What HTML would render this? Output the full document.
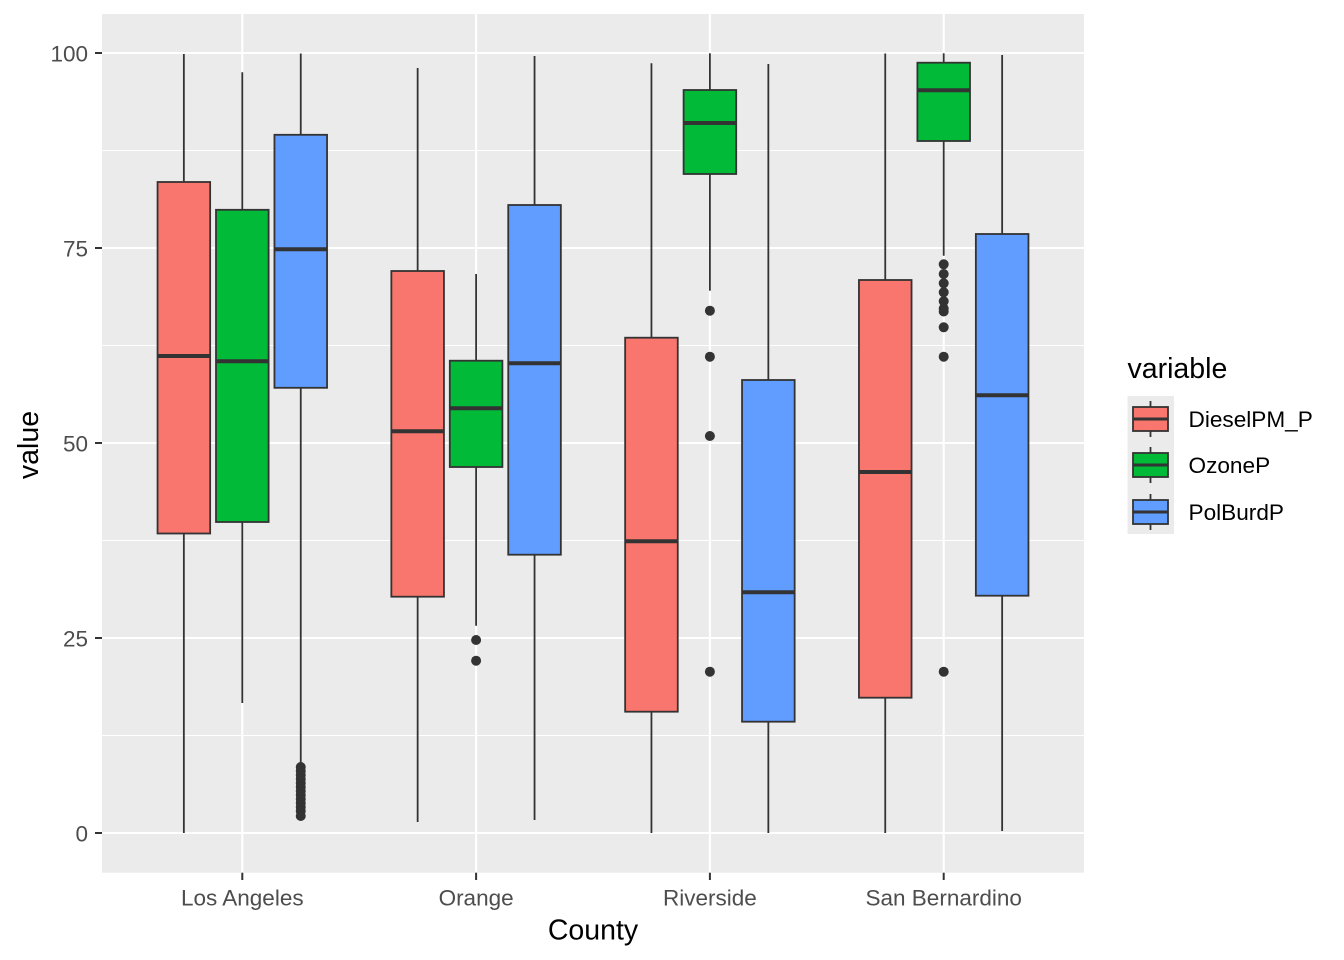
<!DOCTYPE html>
<html><head><meta charset="utf-8"><style>
html,body{margin:0;padding:0;background:#fff;}
svg{display:block;}
text{font-family:"Liberation Sans",Arial,sans-serif;}
</style></head><body>
<svg width="1344" height="960" viewBox="0 0 1344 960" xmlns="http://www.w3.org/2000/svg">
<rect x="0" y="0" width="1344" height="960" fill="#fff"/>
<!-- panel -->
<rect x="102" y="14" width="982" height="858.7" fill="#EBEBEB"/>
<!-- minor grid -->
<g stroke="#fff" stroke-width="1.1">
<line x1="102" x2="1084" y1="735.5" y2="735.5"/>
<line x1="102" x2="1084" y1="540.5" y2="540.5"/>
<line x1="102" x2="1084" y1="345.5" y2="345.5"/>
<line x1="102" x2="1084" y1="150.5" y2="150.5"/>
</g>
<!-- major grid -->
<g stroke="#fff" stroke-width="2.1">
<line x1="102" x2="1084" y1="833" y2="833"/>
<line x1="102" x2="1084" y1="638" y2="638"/>
<line x1="102" x2="1084" y1="443" y2="443"/>
<line x1="102" x2="1084" y1="248" y2="248"/>
<line x1="102" x2="1084" y1="53" y2="53"/>
<line x1="242.3" x2="242.3" y1="14" y2="872.7"/>
<line x1="476.1" x2="476.1" y1="14" y2="872.7"/>
<line x1="709.9" x2="709.9" y1="14" y2="872.7"/>
<line x1="943.7" x2="943.7" y1="14" y2="872.7"/>
</g>

<g stroke="#333333" stroke-width="1.8">
<!-- Los Angeles -->
<line x1="183.85" x2="183.85" y1="54" y2="182"/><line x1="183.85" x2="183.85" y1="533.5" y2="833"/>
<rect x="157.55" y="182" width="52.6" height="351.5" fill="#F8766D"/>
<line x1="242.3" x2="242.3" y1="72.3" y2="209.8"/><line x1="242.3" x2="242.3" y1="522" y2="703"/>
<rect x="216" y="209.8" width="52.6" height="312.2" fill="#00BA38"/>
<line x1="300.75" x2="300.75" y1="53.5" y2="134.8"/><line x1="300.75" x2="300.75" y1="387.8" y2="763"/>
<rect x="274.45" y="134.8" width="52.6" height="253" fill="#619CFF"/>
<!-- Orange -->
<line x1="417.65" x2="417.65" y1="68" y2="271"/><line x1="417.65" x2="417.65" y1="596.7" y2="822"/>
<rect x="391.35" y="271" width="52.6" height="325.7" fill="#F8766D"/>
<line x1="476.1" x2="476.1" y1="274" y2="360.7"/><line x1="476.1" x2="476.1" y1="467" y2="625.7"/>
<rect x="449.8" y="360.7" width="52.6" height="106.3" fill="#00BA38"/>
<line x1="534.55" x2="534.55" y1="56" y2="205"/><line x1="534.55" x2="534.55" y1="554.7" y2="820"/>
<rect x="508.25" y="205" width="52.6" height="349.7" fill="#619CFF"/>
<!-- Riverside -->
<line x1="651.45" x2="651.45" y1="63.3" y2="337.7"/><line x1="651.45" x2="651.45" y1="711.7" y2="833"/>
<rect x="625.15" y="337.7" width="52.6" height="374" fill="#F8766D"/>
<line x1="709.9" x2="709.9" y1="53.3" y2="90"/><line x1="709.9" x2="709.9" y1="174" y2="290.7"/>
<rect x="683.6" y="90" width="52.6" height="84" fill="#00BA38"/>
<line x1="768.35" x2="768.35" y1="64" y2="380"/><line x1="768.35" x2="768.35" y1="721.7" y2="833"/>
<rect x="742.05" y="380" width="52.6" height="341.7" fill="#619CFF"/>
<!-- San Bernardino -->
<line x1="885.25" x2="885.25" y1="53.5" y2="280"/><line x1="885.25" x2="885.25" y1="697.7" y2="833"/>
<rect x="858.95" y="280" width="52.6" height="417.7" fill="#F8766D"/>
<line x1="943.7" x2="943.7" y1="53.3" y2="62.7"/><line x1="943.7" x2="943.7" y1="141" y2="255.7"/>
<rect x="917.4" y="62.7" width="52.6" height="78.3" fill="#00BA38"/>
<line x1="1002.15" x2="1002.15" y1="55" y2="234"/><line x1="1002.15" x2="1002.15" y1="595.7" y2="831"/>
<rect x="975.85" y="234" width="52.6" height="361.7" fill="#619CFF"/>
</g>
<!-- medians -->
<g stroke="#333333" stroke-width="4">
<line x1="157.55" x2="210.15" y1="356" y2="356"/>
<line x1="216" x2="268.6" y1="361.3" y2="361.3"/>
<line x1="274.45" x2="327.05" y1="249.3" y2="249.3"/>
<line x1="391.35" x2="443.95" y1="431.3" y2="431.3"/>
<line x1="449.8" x2="502.4" y1="408.3" y2="408.3"/>
<line x1="508.25" x2="560.85" y1="363.3" y2="363.3"/>
<line x1="625.15" x2="677.75" y1="541.3" y2="541.3"/>
<line x1="683.6" x2="736.2" y1="123" y2="123"/>
<line x1="742.05" x2="794.65" y1="592.3" y2="592.3"/>
<line x1="858.95" x2="911.55" y1="472" y2="472"/>
<line x1="917.4" x2="970" y1="90.3" y2="90.3"/>
<line x1="975.85" x2="1028.45" y1="395.3" y2="395.3"/>
</g>
<!-- outliers -->
<g fill="#333333">
<circle cx="300.75" cy="767" r="5"/><circle cx="300.75" cy="771" r="5"/><circle cx="300.75" cy="775" r="5"/>
<circle cx="300.75" cy="779" r="5"/><circle cx="300.75" cy="783" r="5"/><circle cx="300.75" cy="787" r="5"/>
<circle cx="300.75" cy="791" r="5"/><circle cx="300.75" cy="795" r="5"/><circle cx="300.75" cy="799" r="5"/>
<circle cx="300.75" cy="803" r="5"/><circle cx="300.75" cy="807" r="5"/><circle cx="300.75" cy="811" r="5"/>
<circle cx="300.75" cy="816" r="5"/>
<circle cx="476.1" cy="640" r="5"/><circle cx="476.1" cy="660.7" r="5"/>
<circle cx="709.9" cy="310.7" r="5"/><circle cx="709.9" cy="356.7" r="5"/><circle cx="709.9" cy="436" r="5"/><circle cx="709.9" cy="671.7" r="5"/>
<circle cx="943.7" cy="264.3" r="5"/><circle cx="943.7" cy="274" r="5"/><circle cx="943.7" cy="283.3" r="5"/>
<circle cx="943.7" cy="292.3" r="5"/><circle cx="943.7" cy="301.3" r="5"/><circle cx="943.7" cy="308.5" r="5"/>
<circle cx="943.7" cy="311.5" r="5"/><circle cx="943.7" cy="327.3" r="5"/><circle cx="943.7" cy="356.7" r="5"/>
<circle cx="943.7" cy="671.7" r="5"/>
</g>

<!-- axes ticks -->
<g stroke="#333333" stroke-width="2">
<line x1="95" x2="102" y1="833" y2="833"/>
<line x1="95" x2="102" y1="638" y2="638"/>
<line x1="95" x2="102" y1="443" y2="443"/>
<line x1="95" x2="102" y1="248" y2="248"/>
<line x1="95" x2="102" y1="53" y2="53"/>
<line x1="242.3" x2="242.3" y1="872.7" y2="880"/>
<line x1="476.1" x2="476.1" y1="872.7" y2="880"/>
<line x1="709.9" x2="709.9" y1="872.7" y2="880"/>
<line x1="943.7" x2="943.7" y1="872.7" y2="880"/>
</g>
<g fill="#4D4D4D" font-size="22.5" text-anchor="end">
<text x="88" y="841.5">0</text>
<text x="88" y="646.5">25</text>
<text x="88" y="451.5">50</text>
<text x="88" y="256.5">75</text>
<text x="88" y="61.5">100</text>
</g>
<g fill="#4D4D4D" font-size="22.5" text-anchor="middle">
<text x="242.3" y="905.5">Los Angeles</text>
<text x="476.1" y="905.5">Orange</text>
<text x="709.9" y="905.5">Riverside</text>
<text x="943.7" y="905.5">San Bernardino</text>
</g>
<text x="593" y="939.5" font-size="28.5" text-anchor="middle" fill="#000">County</text>
<text transform="translate(38,445) rotate(-90)" font-size="28.5" text-anchor="middle" fill="#000">value</text>

<!-- legend -->
<text x="1127.5" y="378" font-size="28.5" fill="#000">variable</text>
<rect x="1127.5" y="396" width="46.5" height="138" fill="#EBEBEB"/>
<g stroke="#333333" stroke-width="1.8">
<line x1="1150.5" x2="1150.5" y1="401" y2="437"/>
<rect x="1133" y="407" width="35" height="24" fill="#F8766D"/>
<line x1="1150.5" x2="1150.5" y1="447" y2="483"/>
<rect x="1133" y="453" width="35" height="24" fill="#00BA38"/>
<line x1="1150.5" x2="1150.5" y1="494" y2="530"/>
<rect x="1133" y="500" width="35" height="24" fill="#619CFF"/>
</g>
<g stroke="#333333" stroke-width="3">
<line x1="1133" x2="1168" y1="419" y2="419"/>
<line x1="1133" x2="1168" y1="465" y2="465"/>
<line x1="1133" x2="1168" y1="512" y2="512"/>
</g>
<g fill="#000" font-size="22.6">
<text x="1188.5" y="427">DieselPM_P</text>
<text x="1188.5" y="473">OzoneP</text>
<text x="1188.5" y="520">PolBurdP</text>
</g>
</svg>
</body></html>
